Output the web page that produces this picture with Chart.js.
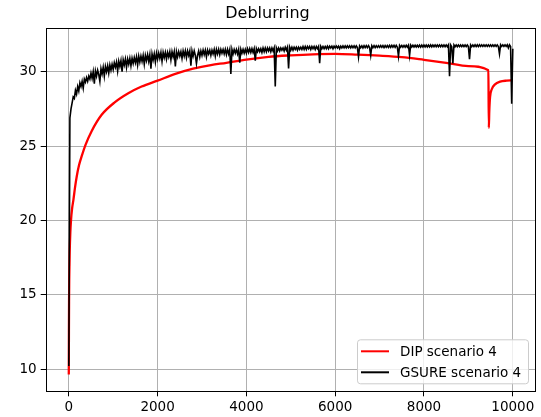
<!DOCTYPE html>
<html>
<head>
<meta charset="utf-8">
<script src="https://cdn.jsdelivr.net/npm/chart.js@4.4.1/dist/chart.umd.min.js"></script>
<style>
  html, body { margin: 0; padding: 0; background: #fff; }
  canvas { display: block; }
</style>
</head>
<body>
<canvas id="chart" width="541" height="417"></canvas>
<script>
// axis ticks
const xTicks = [0, 2000, 4000, 6000, 8000, 10000];
const yTicks = [10, 15, 20, 25, 30];

// DIP scenario 4 (smooth curve, read at irregular iterations)
const dipIters = [0, 3, 6, 10, 20, 35, 50, 75, 105, 140, 176, 230, 289, 379, 514, 740, 1040, 1340, 1640, 2000,
  2400, 2800, 3200, 3550, 4000, 4500, 5000, 5500, 6000, 6500, 7000, 7500, 8000, 8500, 9000, 9450,
  9460, 9470, 9488, 9526, 9600, 9713, 9863, 10000];
const dipValues = [9.63, 12.5, 14.5, 16.0, 17.8, 19.2, 20.0, 20.8, 21.4, 22.2, 22.9, 23.7, 24.3, 25.1, 26.0, 27.1, 27.95, 28.55, 29.0, 29.4,
  29.85, 30.2, 30.45, 30.6, 30.82, 31.0, 31.1, 31.17, 31.2, 31.15, 31.08, 30.98, 30.8, 30.6, 30.38, 30.1,
  26.23, 27.3, 28.3, 28.82, 29.15, 29.33, 29.4, 29.42];

// GSURE scenario 4, one reading every 25 iterations (noisy, with dips)
const gsureStep = 25;
const gsureValues = [
  // 0 - 475
  10.2, 26.9, 27.5, 27.9, 28.3, 28.2, 28.75, 28.5, 29.0, 28.7, 29.25, 29.0, 29.35, 28.9, 29.5, 29.3, 29.6, 29.35, 29.7, 29.5,
  // 500 - 975
  29.9, 29.55, 30.0, 29.2, 30.05, 29.7, 30.1, 29.8, 29.35, 30.2, 29.85, 30.3, 29.7, 30.35, 30.0, 30.4, 29.9, 30.45, 30.1, 30.5,
  // 1000 - 1475
  30.15, 30.6, 30.3, 30.65, 30.05, 30.7, 30.35, 30.75, 30.0, 30.8, 30.45, 30.85, 30.3, 30.85, 30.5, 30.9, 30.4, 30.9, 30.55, 30.95,
  // 1500 - 1975
  30.6, 31.0, 30.45, 31.05, 30.65, 31.05, 30.7, 31.1, 30.5, 31.1, 30.75, 31.15, 30.7, 31.15, 30.2, 31.2, 30.8, 31.2, 30.65, 31.25,
  // 2000 - 2475
  30.85, 31.25, 30.9, 31.3, 30.7, 31.3, 30.95, 31.3, 30.85, 31.3, 31.0, 31.35, 30.8, 31.35, 31.0, 31.35, 30.35, 31.35, 31.0, 31.35,
  // 2500 - 2975
  31.05, 31.35, 30.9, 31.4, 31.05, 31.4, 30.95, 31.4, 31.1, 31.4, 30.4, 31.4, 31.05, 31.4, 31.1, 30.55, 31.1, 31.4, 31.0, 31.4,
  // 3000 - 3475
  31.1, 31.45, 31.15, 31.45, 31.0, 31.45, 31.2, 31.45, 31.1, 31.45, 31.2, 31.5, 31.05, 31.5, 31.2, 31.5, 31.15, 31.5, 31.25, 31.5,
  // 3500 - 3975
  31.2, 31.5, 31.15, 31.5, 31.2, 31.5, 29.85, 31.5, 31.2, 31.5, 31.25, 31.5, 31.2, 31.5, 30.6, 31.5, 31.25, 31.5, 31.25, 31.5,
  // 4000 - 4475
  31.25, 31.55, 31.3, 31.55, 31.3, 31.55, 31.3, 31.55, 30.75, 31.55, 31.35, 31.55, 31.35, 31.55, 31.3, 31.6, 31.35, 31.6, 31.35, 31.6,
  // 4500 - 4975
  31.4, 31.6, 31.35, 31.6, 31.4, 31.6, 29.0, 31.6, 31.4, 31.6, 31.4, 31.6, 31.45, 31.6, 31.4, 31.65, 31.45, 31.65, 30.22, 31.65,
  // 5000 - 5475
  31.45, 31.65, 31.45, 31.65, 31.5, 31.65, 31.45, 31.65, 31.5, 31.65, 31.5, 31.7, 31.5, 31.7, 31.5, 31.7, 31.55, 31.7, 31.5, 31.7,
  // 5500 - 5975
  31.55, 31.7, 31.5, 31.7, 31.55, 31.7, 30.58, 31.7, 31.55, 31.7, 31.55, 31.7, 31.55, 31.72, 31.55, 31.72, 31.6, 31.72, 31.55, 31.72,
  // 6000 - 6475
  31.6, 31.72, 31.6, 31.72, 31.55, 31.72, 31.6, 31.74, 31.6, 31.74, 31.6, 31.74, 31.62, 31.74, 31.6, 31.74, 31.62, 31.74, 31.6, 31.74,
  // 6500 - 6975
  31.62, 31.0, 31.74, 31.62, 31.74, 31.6, 31.75, 31.62, 31.75, 31.62, 31.75, 31.62, 31.1, 31.75, 31.62, 31.75, 31.62, 31.75, 31.64, 31.75,
  // 7000 - 7475
  31.64, 31.76, 31.64, 31.76, 31.62, 31.76, 31.64, 31.76, 31.64, 31.77, 31.64, 31.77, 31.65, 31.77, 31.64, 31.77, 31.65, 31.05, 31.77, 31.65,
  // 7500 - 7975
  31.77, 31.65, 31.77, 31.65, 31.78, 31.65, 31.78, 31.1, 31.78, 31.66, 31.78, 31.66, 31.78, 31.66, 31.78, 31.66, 31.79, 31.66, 31.79, 31.67,
  // 8000 - 8475
  31.79, 31.67, 31.79, 31.67, 31.79, 31.67, 31.8, 31.67, 31.8, 31.68, 31.8, 31.68, 31.8, 31.68, 31.8, 31.68, 31.8, 31.68, 31.8, 31.68,
  // 8500 - 8975
  31.8, 31.68, 31.8, 29.7, 31.8, 31.68, 30.55, 31.8, 31.68, 31.8, 31.68, 31.8, 31.69, 31.8, 31.69, 31.8, 31.69, 31.8, 31.69, 31.8,
  // 9000 - 9475
  31.69, 30.85, 31.8, 31.69, 31.8, 31.69, 31.81, 31.69, 31.81, 31.69, 31.81, 31.7, 31.81, 31.7, 31.81, 31.7, 31.81, 31.7, 31.81, 31.7,
  // 9500 - 9975
  31.81, 31.7, 31.81, 31.7, 31.81, 31.7, 31.81, 31.7, 31.2, 31.81, 31.7, 31.81, 31.7, 31.81, 31.7, 31.81, 31.6, 31.81, 31.7, 27.85,
  // 10000
  31.55
];

const dipData = dipIters.map((it, i) => ({ x: it, y: dipValues[i] }));
const gsureData = gsureValues.map((v, i) => ({ x: i * gsureStep, y: v }));

const FONT = "'DejaVu Sans', sans-serif";

// box round the plot area (matplotlib spines)
const framePlugin = {
  id: "frame",
  afterDatasetsDraw(chart) {
    const { ctx, chartArea: a } = chart;
    ctx.save();
    ctx.strokeStyle = "#000";
    ctx.lineWidth = 1;
    ctx.strokeRect(Math.round(a.left) + 0.5, Math.round(a.top) + 0.5,
      Math.round(a.right - a.left), Math.round(a.bottom - a.top));
    ctx.restore();
  }
};

// legend in lower right corner, inside the axes
const boxLegend = {
  id: "boxLegend",
  afterDraw(chart) {
    const { ctx, chartArea: a } = chart;
    const ds = chart.data.datasets;
    const right = a.right - 7, bottom = a.bottom - 8;
    const w = 171, h = 44;
    const left = right - w, top = bottom - h;
    ctx.save();
    ctx.beginPath();
    ctx.roundRect(left + 0.5, top + 0.5, w, h, 3);
    ctx.fillStyle = "rgba(255,255,255,0.8)";
    ctx.fill();
    ctx.strokeStyle = "#cccccc";
    ctx.lineWidth = 1;
    ctx.stroke();
    ctx.font = "13.5px " + FONT;
    ctx.textBaseline = "middle";
    ds.forEach((d, i) => {
      const y = top + 12 + i * 21;
      ctx.strokeStyle = d.borderColor;
      ctx.lineWidth = 2;
      ctx.beginPath();
      ctx.moveTo(left + 4, y);
      ctx.lineTo(left + 32, y);
      ctx.stroke();
      ctx.fillStyle = "#000";
      ctx.fillText(d.label, left + 43, y + 1);
    });
    ctx.restore();
  }
};

new Chart(document.getElementById("chart"), {
  type: "line",
  data: {
    datasets: [
      {
        label: "DIP scenario 4",
        data: dipData,
        borderColor: "#ff0000",
        borderWidth: 2.3,
        pointRadius: 0,
        cubicInterpolationMode: "monotone",
        order: 1
      },
      {
        label: "GSURE scenario 4",
        data: gsureData,
        borderColor: "#000000",
        borderWidth: 1.6,
        pointRadius: 0,
        tension: 0,
        order: 0
      }
    ]
  },
  options: {
    responsive: false,
    animation: false,
    layout: { padding: { left: 0, right: 6, top: 0, bottom: 0 } },
    plugins: {
      legend: { display: false },
      tooltip: { enabled: false },
      title: {
        display: true,
        text: "Deblurring",
        color: "#000",
        font: { family: FONT, size: 16, weight: "normal" },
        padding: { top: 4, bottom: 5.1 }
      }
    },
    scales: {
      x: {
        type: "linear",
        min: -520,
        max: 10500,
        afterBuildTicks: s => { s.ticks = xTicks.map(v => ({ value: v })); },
        afterFit: s => { s.height = 25.7; },
        grid: { color: "#b0b0b0", lineWidth: 1, tickColor: "#000", tickLength: 5 },
        border: { display: false },
        ticks: { color: "#000", font: { family: FONT, size: 13.5 }, padding: 3, maxRotation: 0, callback: v => String(v) }
      },
      y: {
        min: 8.5,
        max: 32.92,
        afterBuildTicks: s => { s.ticks = yTicks.map(v => ({ value: v })); },
        afterFit: s => { s.width = 45.7; },
        grid: { color: "#b0b0b0", lineWidth: 1, tickColor: "#000", tickLength: 5 },
        border: { display: false },
        ticks: { color: "#000", font: { family: FONT, size: 13.5 }, padding: 4, callback: v => String(v) }
      }
    }
  },
  plugins: [framePlugin, boxLegend]
});
</script>
</body>
</html>
